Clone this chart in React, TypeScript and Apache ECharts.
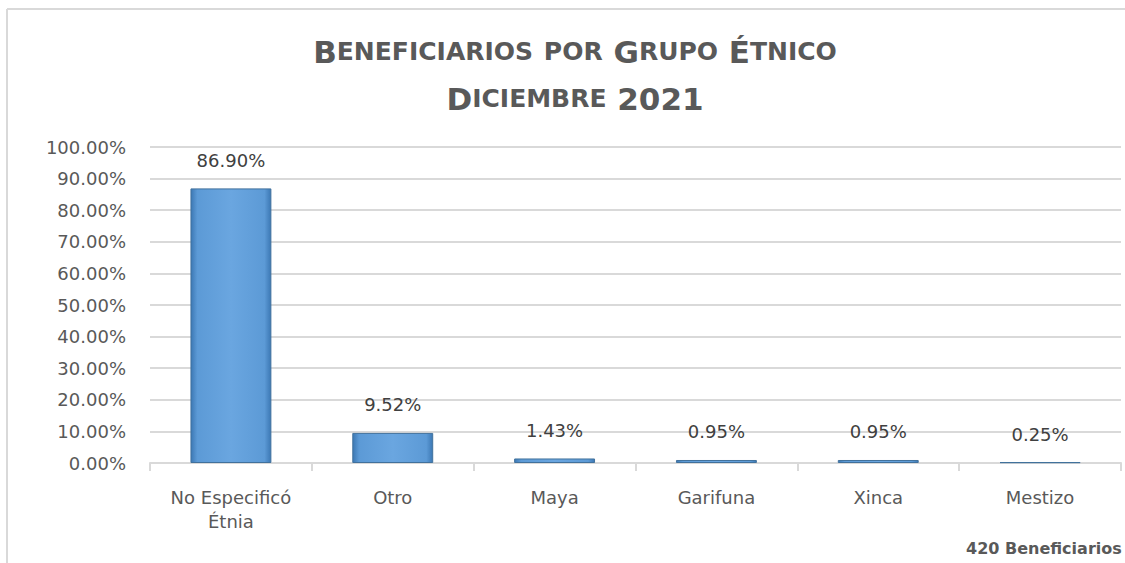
import React, { useEffect, useRef } from "react";
import * as echarts from "echarts";

const categories = ["No Especificó\nÉtnia", "Otro", "Maya", "Garifuna", "Xinca", "Mestizo"];
const shares = [0.869, 0.0952, 0.0143, 0.0095, 0.0095, 0.0025];
const titleLine1 = "{b|B}{s|ENEFICIARIOS} {s|POR} {b|G}{s|RUPO} {b|É}{s|TNICO}";
const titleLine2 = "{b|D}{s|ICIEMBRE} {b|2021}";
const footnote = "420 Beneficiarios";

const FONT = "DejaVu Sans";

export default function App() {
  const ref = useRef<HTMLDivElement>(null);
  useEffect(() => {
    document.body.style.margin = "0";
    document.body.style.overflow = "hidden";
    const chart = echarts.init(ref.current!, null, { renderer: "svg" });
    const rich = {
      b: { fontFamily: FONT, fontWeight: "bold", fontSize: 31, color: "#595959", lineHeight: 47 },
      s: { fontFamily: FONT, fontWeight: "bold", fontSize: 25, color: "#595959", lineHeight: 47 },
    };
    chart.setOption({
      animation: false,
      backgroundColor: "#ffffff",
      title: {
        text: titleLine1 + "\n" + titleLine2,
        left: 570,
        top: 23,
        textAlign: "center",
        textStyle: { rich, fontFamily: FONT, fontWeight: "bold", fontSize: 31, color: "#595959", lineHeight: 47 },
      },
      graphic: [
        {
          type: "line",
          shape: { x1: 7, y1: 9, x2: 1125, y2: 9 },
          style: { stroke: "#d9d9d9", lineWidth: 2 },
          silent: true,
        },
        {
          type: "line",
          shape: { x1: 7, y1: 9, x2: 7, y2: 563 },
          style: { stroke: "#d9d9d9", lineWidth: 2 },
          silent: true,
        },
        {
          type: "text",
          x: 966,
          y: 540,
          style: { text: footnote, fontFamily: FONT, fontWeight: "bold", fontSize: 16, fill: "#595959" },
        },
      ],
      grid: { left: 150, right: 4, top: 147, bottom: 100, containLabel: false, show: false },
      xAxis: {
        type: "category",
        data: categories,
        boundaryGap: true,
        splitLine: { show: false },
        axisLine: { lineStyle: { color: "#d9d9d9", width: 2 } },
        axisTick: { show: true, length: 8, lineStyle: { color: "#d9d9d9", width: 2 } },
        axisLabel: { fontFamily: FONT, fontSize: 18, color: "#595959", margin: 22, lineHeight: 24, interval: 0 },
      },
      yAxis: {
        type: "value",
        min: 0,
        max: 1,
        interval: 0.1,
        axisLine: { show: false },
        axisTick: { show: false },
        splitLine: { lineStyle: { color: "#d9d9d9", width: 2 } },
        axisLabel: {
          fontFamily: FONT,
          fontSize: 18,
          color: "#595959",
          margin: 24,
          formatter: (v: number) => (v * 100).toFixed(2) + "%",
        },
      },
      series: [
        {
          type: "bar",
          data: shares,
          barWidth: "50%",
          itemStyle: {
            color: new echarts.graphic.LinearGradient(0, 0, 1, 0, [
              { offset: 0, color: "#3c78b4" },
              { offset: 0.08, color: "#5c9ad6" },
              { offset: 0.5, color: "#6aa6e0" },
              { offset: 0.92, color: "#5c9ad6" },
              { offset: 1, color: "#3c78b4" },
            ]),
            borderColor: "#41719c",
            borderWidth: 1,
          },
          label: {
            show: true,
            position: "top",
            distance: 19,
            fontFamily: FONT,
            fontSize: 18,
            color: "#404040",
            formatter: (p: any) => (p.value * 100).toFixed(2) + "%",
          },
        },
      ],
    });
    return () => chart.dispose();
  }, []);
  return <div ref={ref} style={{ position: "absolute", left: 0, top: 0, width: 1125, height: 563 }} />;
}
